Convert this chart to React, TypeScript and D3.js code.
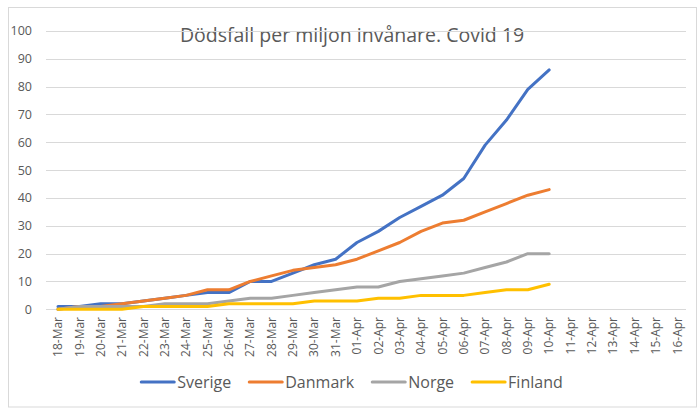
import React from "react";
import * as d3 from "d3";

const dates = [
  "18-Mar", "19-Mar", "20-Mar", "21-Mar", "22-Mar", "23-Mar", "24-Mar", "25-Mar",
  "26-Mar", "27-Mar", "28-Mar", "29-Mar", "30-Mar", "31-Mar", "01-Apr", "02-Apr",
  "03-Apr", "04-Apr", "05-Apr", "06-Apr", "07-Apr", "08-Apr", "09-Apr", "10-Apr",
  "11-Apr", "12-Apr", "13-Apr", "14-Apr", "15-Apr", "16-Apr",
];

const sverige = [1, 1, 2, 2, 3, 4, 5, 6, 6, 10, 10, 13, 16, 18, 24, 28, 33, 37, 41, 47, 59, 68, 79, 86];
const danmark = [0, 1, 1, 2, 3, 4, 5, 7, 7, 10, 12, 14, 15, 16, 18, 21, 24, 28, 31, 32, 35, 38, 41, 43];
const norge = [0, 1, 1, 1, 1, 2, 2, 2, 3, 4, 4, 5, 6, 7, 8, 8, 10, 11, 12, 13, 15, 17, 20, 20];
const finland = [0, 0, 0, 0, 1, 1, 1, 1, 2, 2, 2, 2, 3, 3, 3, 4, 4, 5, 5, 5, 6, 7, 7, 9];

const yTicks = [0, 10, 20, 30, 40, 50, 60, 70, 80, 90, 100];

const seriesNames = ["Sverige", "Danmark", "Norge", "Finland"];
const seriesColors = ["#4472C4", "#ED7D31", "#A5A5A5", "#FFC000"];

const W = 700;
const H = 409;
const FONT = "'Open Sans', sans-serif";
const TEXT = "#595959";
const GRID = "#D9D9D9";

function textWidth(s: string, size: number): number {
  const c = document.createElement("canvas").getContext("2d");
  if (!c) return s.length * size * 0.55;
  c.font = `${size}px 'Open Sans'`;
  return c.measureText(s).width;
}

export default function App() {
  const x = d3.scalePoint<string>().domain(dates).range([47.3, 688]).padding(0.5);
  const y = d3.scaleLinear().domain([0, 100]).range([309.3, 31]);

  const series = [sverige, danmark, norge, finland];
  const line = d3
    .line<number>()
    .x((_, i) => x(dates[i]) as number)
    .y((d) => y(d));

  // legend layout: swatch + label, centred under the plot
  const legendSize = 16;
  const swatch = 33;
  const swGap = 3;
  const itemGap = 18;
  const widths = seriesNames.map((n) => swatch + swGap + textWidth(n, legendSize));
  const total = d3.sum(widths) + itemGap * (widths.length - 1);
  let lx = (8 + 696) / 2 - total / 2;
  const legendItems = seriesNames.map((n, i) => {
    const item = { name: n, color: seriesColors[i], x: lx };
    lx += widths[i] + itemGap;
    return item;
  });
  const legendY = 382;

  return (
    <svg
      width={W}
      height={H}
      style={{ position: "absolute", left: 0, top: 0, background: "#fff" }}
      fontFamily={FONT}
    >
      <rect x={8.5} y={7.5} width={688} height={399.5} fill="#fff" stroke={GRID} strokeWidth={1} />

      <text x={352} y={41.5} textAnchor="middle" fontSize={19.5} fill={TEXT}>
        Dödsfall per miljon invånare. Covid 19
      </text>

      {yTicks.map((t) => (
        <g key={t}>
          <line
            x1={46}
            x2={686}
            y1={Math.round(y(t)) + 0.5}
            y2={Math.round(y(t)) + 0.5}
            stroke={GRID}
            strokeWidth={1}
          />
          <text x={32} y={y(t)} dy="0.35em" textAnchor="end" fontSize={12.5} fill={TEXT}>
            {t}
          </text>
        </g>
      ))}

      {dates.map((d) => (
        <text
          key={d}
          transform={`translate(${x(d)},${317}) rotate(-90)`}
          dy="0.35em"
          textAnchor="end"
          fontSize={12}
          fill={TEXT}
        >
          {d}
        </text>
      ))}

      {series.map((s, i) => (
        <path
          key={seriesNames[i]}
          d={line(s) || ""}
          fill="none"
          stroke={seriesColors[i]}
          strokeWidth={3}
          strokeLinejoin="round"
          strokeLinecap="round"
        />
      ))}

      {legendItems.map((it) => (
        <g key={it.name}>
          <line
            x1={it.x}
            x2={it.x + swatch}
            y1={legendY}
            y2={legendY}
            stroke={it.color}
            strokeWidth={3}
            strokeLinecap="round"
          />
          <text x={it.x + swatch + swGap} y={legendY} dy="0.35em" fontSize={legendSize} fill={TEXT}>
            {it.name}
          </text>
        </g>
      ))}
    </svg>
  );
}
